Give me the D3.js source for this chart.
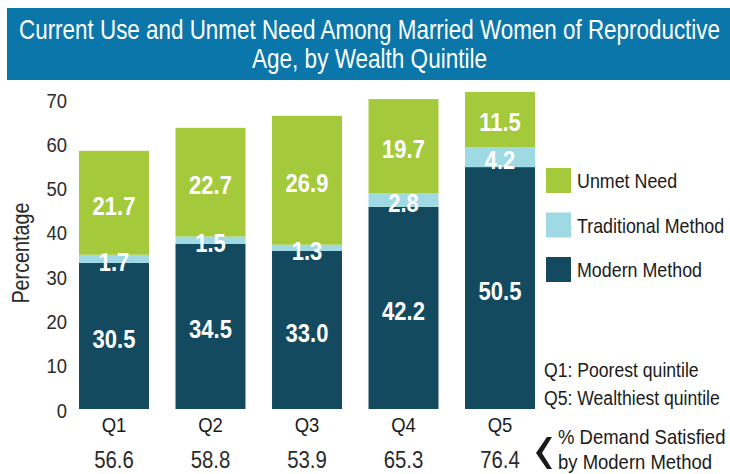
<!DOCTYPE html>
<meta charset='utf-8'>
<style>
html, body {
  margin: 0;
  padding: 0;
  background: #fff;
}
svg text {
  font-family: 'Liberation Sans', Arial, sans-serif;
}
</style>
<body>
<div id='chart'></div>
<script src='https://d3js.org/d3.v7.min.js'></script>
<script>

// data
var quintiles = ['Q1', 'Q2', 'Q3', 'Q4', 'Q5'];
var modern = [30.5, 34.5, 33.0, 42.2, 50.5];
var traditional = [1.7, 1.5, 1.3, 2.8, 4.2];
var unmet = [21.7, 22.7, 26.9, 19.7, 11.5];
var satisfied = ['56.6', '58.8', '53.9', '65.3', '76.4'];
var yTicks = [0, 10, 20, 30, 40, 50, 60, 70];
var seriesNames = ['Unmet Need', 'Traditional Method', 'Modern Method'];
var colors = {
  'Modern Method': '#144a5f',
  'Traditional Method': '#9fd9e4',
  'Unmet Need': '#a4c93b'
};

var W = 730, H = 474;
var svg = d3.select('#chart').append('svg')
    .attr('width', W)
    .attr('height', H);

// no condensed font installed, so squeeze the glyphs
function fit(sel, k) {
  sel.each(function() {
    var L = this.getComputedTextLength();
    d3.select(this).attr('textLength', L * k).attr('lengthAdjust', 'spacingAndGlyphs');
  });
}

// title banner
svg.append('rect')
  .attr('x', 7).attr('y', 8)
  .attr('width', 723).attr('height', 72)
  .attr('fill', '#0b76a9');
svg.append('text')
  .attr('x', 19).attr('y', 39)
  .attr('fill', '#fff')
  .style('font-size', '28px')
  .attr('textLength', 701).attr('lengthAdjust', 'spacingAndGlyphs')
  .text('Current Use and Unmet Need Among Married Women of Reproductive');
svg.append('text')
  .attr('x', 252).attr('y', 68)
  .attr('fill', '#fff')
  .style('font-size', '28px')
  .attr('textLength', 235).attr('lengthAdjust', 'spacingAndGlyphs')
  .text('Age, by Wealth Quintile');

var x = d3.scaleBand()
    .domain(quintiles)
    .range([65.75, 548.25])
    .paddingInner(0.275)
    .paddingOuter(0.1375);

// bars scale
var y = d3.scaleLinear().domain([0, 70]).range([409, 73.7]);
// the tick labels in the original sit on their own spacing
var yLab = d3.scaleLinear().domain([0, 70]).range([410, 100]);

var rows = quintiles.map(function(q, i) {
  return {q: q, 'Modern Method': modern[i], 'Traditional Method': traditional[i], 'Unmet Need': unmet[i]};
});
var stack = d3.stack().keys(['Modern Method', 'Traditional Method', 'Unmet Need']);
var layers = stack(rows);

var g = svg.append('g');
layers.forEach(function(layer) {
  g.selectAll(null)
    .data(layer)
    .enter().append('rect')
    .attr('x', function(d) { return x(d.data.q); })
    .attr('y', function(d) { return y(d[1]); })
    .attr('width', x.bandwidth())
    .attr('height', function(d) { return y(d[0]) - y(d[1]); })
    .attr('fill', colors[layer.key]);
});

layers.forEach(function(layer) {
  var t = g.selectAll(null)
    .data(layer)
    .enter().append('text')
    .attr('x', function(d) { return x(d.data.q) + x.bandwidth() / 2; })
    .attr('y', function(d) { return y((d[0] + d[1]) / 2) + 3; })
    .attr('text-anchor', 'middle')
    .attr('dominant-baseline', 'central')
    .attr('fill', '#fff')
    .style('font-size', '25px')
    .style('font-weight', 'bold')
    .text(function(d) { return d.data[layer.key].toFixed(1); });
  fit(t, 0.88);
});

// y axis labels
var yAxis = svg.append('g')
  .attr('transform', 'translate(67,0)')
  .call(d3.axisLeft(yLab).tickValues(yTicks).tickSize(0).tickPadding(0));
yAxis.select('.domain').remove();
yAxis.selectAll('text')
  .attr('fill', '#2b2b2b')
  .attr('dy', '0.35em')
  .style('font-size', '20px');
fit(yAxis.selectAll('text'), 0.92);

var yt = svg.append('text')
  .attr('transform', 'translate(29,253) rotate(-90)')
  .attr('text-anchor', 'middle')
  .attr('fill', '#2b2b2b')
  .style('font-size', '23px')
  .text('Percentage');
fit(yt, 0.86);

// x axis
var xAxis = svg.append('g')
  .attr('transform', 'translate(0,411)')
  .call(d3.axisBottom(x).tickSize(0).tickPadding(0));
xAxis.select('.domain').remove();
xAxis.selectAll('text')
  .attr('fill', '#1a1a1a')
  .attr('y', 14)
  .attr('dy', '0.35em')
  .style('font-size', '21px');
fit(xAxis.selectAll('text'), 0.88);

var sat = svg.selectAll('.sat')
  .data(satisfied)
  .enter().append('text')
  .attr('class', 'sat')
  .attr('x', function(d, i) { return x(quintiles[i]) + x.bandwidth() / 2; })
  .attr('y', 460)
  .attr('dy', '0.35em')
  .attr('text-anchor', 'middle')
  .attr('fill', '#2b2b2b')
  .style('font-size', '24px')
  .text(function(d) { return d; });
fit(sat, 0.85);

// legend
var leg = svg.selectAll('.leg')
  .data(seriesNames)
  .enter().append('g')
  .attr('class', 'leg')
  .attr('transform', function(d, i) { return 'translate(546,' + (168 + i * 44.5) + ')'; });
leg.append('rect')
  .attr('width', 25).attr('height', 25)
  .attr('fill', function(d) { return colors[d]; });
var lt = leg.append('text')
  .attr('x', 31).attr('y', 13)
  .attr('dy', '0.35em')
  .attr('fill', '#1a1a1a')
  .style('font-size', '21px')
  .text(function(d) { return d; });
fit(lt, 0.85);

// notes
var notes = svg.append('g').attr('fill', '#1a1a1a');
notes.append('text').attr('x', 544).attr('y', 370).attr('dy', '0.35em')
  .style('font-size', '20px')
  .text('Q1: Poorest quintile');
notes.append('text').attr('x', 544).attr('y', 398).attr('dy', '0.35em')
  .style('font-size', '20px')
  .text('Q5: Wealthiest quintile');
notes.append('path')
  .attr('d', 'M552,437 L542,453 L552,469 L547,469 L536,453 L547,437 Z');
notes.append('text').attr('x', 558).attr('y', 437).attr('dy', '0.35em')
  .style('font-size', '21px')
  .text('% Demand Satisfied');
notes.append('text').attr('x', 558).attr('y', 462).attr('dy', '0.35em')
  .style('font-size', '21px')
  .text('by Modern Method');
fit(notes.selectAll('text'), 0.88);

</script>
</body>
